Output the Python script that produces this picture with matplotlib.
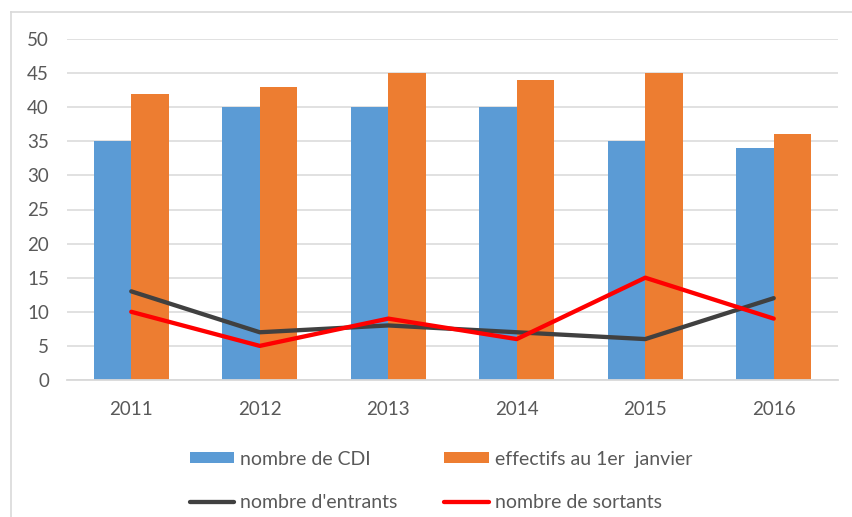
import numpy as np
import matplotlib
matplotlib.use('Agg')
import matplotlib.pyplot as plt
from matplotlib.lines import Line2D

plt.rcParams['font.family'] = ['Lato', 'DejaVu Sans']

# Data
years = ['2011', '2012', '2013', '2014', '2015', '2016']
nb_cdi = [35, 40, 40, 40, 35, 34]
effectifs = [42, 43, 45, 44, 45, 36]
entrants = [13, 7, 8, 7, 6, 12]
sortants = [10, 5, 9, 6, 15, 9]

text_color = '#595959'
grid_color = '#D9D9D9'

fig = plt.figure(figsize=(8.52, 5.17), dpi=100)
ax = fig.add_axes([67 / 852, 1 - 380 / 517, (838 - 67) / 852, (380 - 39) / 517])

x = np.arange(len(years))
w = 0.29
b1 = ax.bar(x - w / 2, nb_cdi, w, color='#5B9BD5', label='nombre de CDI', zorder=2)
b2 = ax.bar(x + w / 2, effectifs, w, color='#ED7D31', label='effectifs au 1er  janvier', zorder=2)
l1, = ax.plot(x, entrants, color='#404040', lw=3.1, label="nombre d'entrants",
              solid_capstyle='round', solid_joinstyle='round', zorder=3)
l2, = ax.plot(x, sortants, color='#FF0000', lw=3.1, label='nombre de sortants',
              solid_capstyle='round', solid_joinstyle='round', zorder=4)

ax.set_xlim(-0.5, len(years) - 0.5)
ax.set_ylim(0, 50)
ax.set_yticks(range(0, 51, 5))
ax.set_xticks(x)
ax.set_xticklabels(years)
ax.yaxis.grid(True, color=grid_color, lw=1.1, zorder=0)
ax.set_axisbelow(True)
for s in ['top', 'right', 'left']:
    ax.spines[s].set_visible(False)
ax.spines['bottom'].set_color(grid_color)
ax.spines['bottom'].set_linewidth(1.3)
ax.tick_params(axis='both', length=0, labelsize=13.5, colors=text_color)
ax.tick_params(axis='y', pad=13)
ax.tick_params(axis='x', pad=15)

leg = fig.legend([b1, l1, b2, l2],
                 ['nombre de CDI', "nombre d'entrants", 'effectifs au 1er  janvier', 'nombre de sortants'],
                 ncol=2, loc='upper left', bbox_to_anchor=(180 / 852, 1 - 441 / 517),
                 frameon=False, fontsize=14, handlelength=2.3, handleheight=0.5,
                 handletextpad=0.3, columnspacing=2.4, labelspacing=1.35, borderpad=0)
for t in leg.get_texts():
    t.set_color(text_color)

# chart border (light gray frame)
fig.add_artist(Line2D([11 / 852, 11 / 852], [0, 1 - 12 / 517], transform=fig.transFigure,
                      color=grid_color, lw=1.2))
fig.add_artist(Line2D([11 / 852, 1], [1 - 12 / 517, 1 - 12 / 517], transform=fig.transFigure,
                      color=grid_color, lw=1.2))

fig.savefig('out.png', dpi=100)
